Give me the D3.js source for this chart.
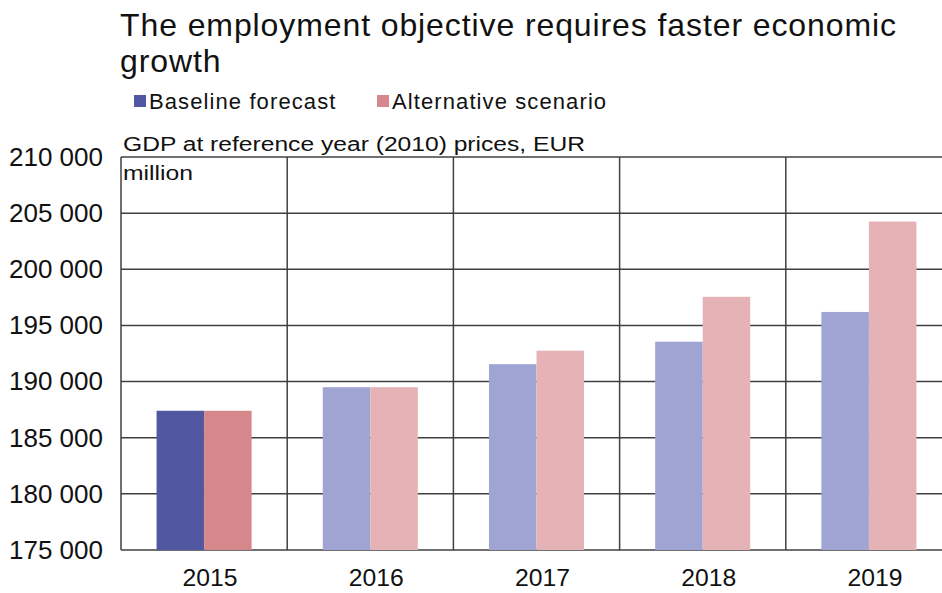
<!DOCTYPE html>
<html lang="en">
  <head>
    <meta charset="UTF-8" />
    <title>The employment objective requires faster economic growth</title>
    <script src="https://d3js.org/d3.v7.min.js"></script>
    <style>
      body {
        margin: 0;
        background: #fff;
      }
      svg {
        display: block;
        font-family: "Liberation Sans", Arial, sans-serif;
      }
    </style>
  </head>
  <body>
    <div class="chart"></div>
  </body>

  <script>
    var years = ["2015", "2016", "2017", "2018", "2019"];
    var baseline = [187400, 189500, 191550, 193550, 196200];
    var alternative = [187400, 189500, 192750, 197550, 204250];
    var yTicks = [175000, 180000, 185000, 190000, 195000, 200000, 205000, 210000];

    var W = 942, H = 593;
    var margin = { top: 157, right: -10, bottom: 43, left: 121 };
    var width = W - margin.left - margin.right;
    var height = H - margin.top - margin.bottom;

    var svgContainer = d3
      .select(".chart")
      .append("svg")
      .attr("width", W)
      .attr("height", H);

    // title (two lines, as in the original)
    svgContainer
      .selectAll(".title")
      .data(["The employment objective requires faster economic", "growth"])
      .enter()
      .append("text")
      .attr("x", 120)
      .attr("y", function (d, i) {
        return 36 + i * 36;
      })
      .attr("font-size", 32)
      .attr("letter-spacing", 0.9)
      .attr("fill", "#111")
      .text(function (d) {
        return d;
      });

    var legend = [
      { name: "Baseline forecast", color: "#5157a0", x: 134 },
      { name: "Alternative scenario", color: "#d6878b", x: 377 },
    ];
    var lg = svgContainer
      .selectAll(".legend")
      .data(legend)
      .enter()
      .append("g")
      .attr("transform", function (d) {
        return "translate(" + d.x + ",0)";
      });
    lg.append("rect")
      .attr("x", 0)
      .attr("y", 95)
      .attr("width", 12)
      .attr("height", 12)
      .attr("fill", function (d) {
        return d.color;
      });
    lg.append("text")
      .attr("x", 15)
      .attr("y", 109)
      .attr("font-size", 22)
      .attr("letter-spacing", 1.1)
      .attr("fill", "#111")
      .text(function (d) {
        return d.name;
      });

    var svg = svgContainer
      .append("g")
      .attr("transform", "translate(" + margin.left + ", " + margin.top + ")");

    var x = d3.scaleBand().domain(years).range([0, width]);
    var y = d3.scaleLinear().domain([175000, 210000]).range([height, 0]);

    // horizontal grid
    svg
      .selectAll(".hgrid")
      .data(yTicks)
      .enter()
      .append("line")
      .attr("x1", 0)
      .attr("x2", width)
      .attr("y1", function (d) {
        return y(d);
      })
      .attr("y2", function (d) {
        return y(d);
      })
      .attr("stroke", "#404040")
      .attr("stroke-width", 1.5);

    // vertical grid at band edges
    svg
      .selectAll(".vgrid")
      .data(years.concat(["end"]))
      .enter()
      .append("line")
      .attr("x1", function (d, i) {
        return i * x.step();
      })
      .attr("x2", function (d, i) {
        return i * x.step();
      })
      .attr("y1", 0)
      .attr("y2", height)
      .attr("stroke", "#404040")
      .attr("stroke-width", 1.5);

    var barW = x.bandwidth() * 0.286;
    var groups = svg
      .selectAll(".year")
      .data(years)
      .enter()
      .append("g")
      .attr("transform", function (d) {
        return "translate(" + (x(d) + x.bandwidth() / 2) + ",0)";
      });

    groups
      .append("rect")
      .attr("x", -barW)
      .attr("width", barW)
      .attr("y", function (d, i) {
        return y(baseline[i]);
      })
      .attr("height", function (d, i) {
        return height - y(baseline[i]);
      })
      .attr("fill", function (d, i) {
        return i === 0 ? "#5157a0" : "#a0a4d3";
      });

    groups
      .append("rect")
      .attr("x", 0)
      .attr("width", barW)
      .attr("y", function (d, i) {
        return y(alternative[i]);
      })
      .attr("height", function (d, i) {
        return height - y(alternative[i]);
      })
      .attr("fill", function (d, i) {
        return i === 0 ? "#d6878b" : "#e5b3b6";
      });

    // axes
    var yAxis = svg
      .append("g")
      .call(
        d3
          .axisLeft(y)
          .tickValues(yTicks)
          .tickSize(0)
          .tickPadding(18)
          .tickFormat(function (d) {
            return d3.format(",")(d).replace(",", " ");
          })
      );
    yAxis.select(".domain").remove();
    yAxis.selectAll("text").attr("font-size", 26).attr("fill", "#111").attr("font-family", null);

    var xAxis = svg
      .append("g")
      .attr("transform", "translate(0," + height + ")")
      .call(d3.axisBottom(x).tickSize(0).tickPadding(19));
    xAxis.select(".domain").remove();
    xAxis
      .selectAll("text")
      .attr("font-size", 24)
      .attr("dx", 6)
      .attr("textLength", 55)
      .attr("lengthAdjust", "spacingAndGlyphs")
      .attr("fill", "#111")
      .attr("font-family", null);

    // unit label (wider lettering, like the source)
    svg
      .append("text")
      .attr("x", 2)
      .attr("y", -6)
      .attr("font-size", 20)
      .attr("textLength", 462)
      .attr("lengthAdjust", "spacingAndGlyphs")
      .attr("fill", "#111")
      .text("GDP at reference year (2010) prices, EUR");
    svg
      .append("text")
      .attr("x", 2)
      .attr("y", 23)
      .attr("font-size", 20)
      .attr("textLength", 70)
      .attr("lengthAdjust", "spacingAndGlyphs")
      .attr("fill", "#111")
      .text("million");
  </script>
</html>
